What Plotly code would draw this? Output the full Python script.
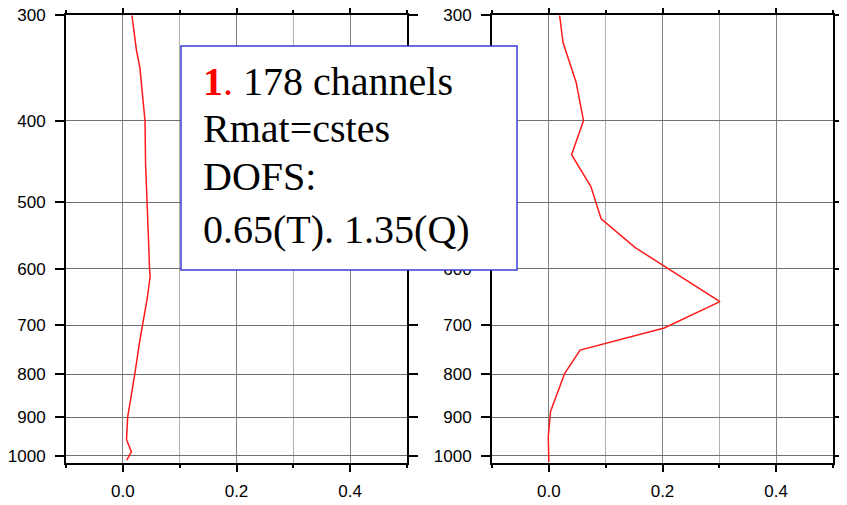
import math
import plotly.graph_objects as go

# ---- data ----
p_left = [300, 330, 346, 378, 400, 450, 500, 550, 600, 613, 650, 677, 700, 729, 800, 850, 900, 957, 989, 1012]
t_left = [0.016, 0.024, 0.030, 0.036, 0.039, 0.040, 0.042, 0.045, 0.047, 0.048, 0.043, 0.038, 0.035, 0.030, 0.021, 0.015, 0.0085, 0.0065, 0.015, 0.007]

p_right = [300, 323, 360, 400, 439, 479, 523, 566, 656, 705, 749, 798, 886, 949, 1016]
q_right = [0.019, 0.025, 0.048, 0.061, 0.040, 0.074, 0.092, 0.152, 0.301, 0.203, 0.055, 0.028, 0.003, -0.001, 0.0]

y_ticks = [300, 400, 500, 600, 700, 800, 900, 1000]
x_range = [-0.1, 0.5]
p_range = [1020, 299.6]

box_lines = ["<span style='color:red'><b>1</b>.</span> 178 channels",
             "Rmat=cstes",
             "DOFS:",
             "0.65(T). 1.35(Q)"]
box_line_tops = [57, 104, 152, 205]

# ---- layout geometry (page body has an 8px margin) ----
OFF = 8
W, H = 847 - OFF, 505 - OFF
ML, MT = 66 - OFF, 15 - OFF
MR, MB = 14, 42
PW, PH = W - ML - MR, H - MT - MB


def px2x(px):
    return (px - OFF - ML) / PW


def px2y(py):
    return (H - MB - (py - OFF)) / PH


fig = go.Figure()
fig.add_trace(go.Scatter(x=t_left, y=p_left, mode="lines",
                         line=dict(color="#ff1a1a", width=1.5),
                         xaxis="x", yaxis="y", showlegend=False))
fig.add_trace(go.Scatter(x=q_right, y=p_right, mode="lines",
                         line=dict(color="#ff1a1a", width=1.5),
                         xaxis="x2", yaxis="y2", showlegend=False))

tickfont = dict(family="Liberation Sans, Arial, sans-serif", size=17, color="black")

xax = dict(range=x_range, tick0=0, dtick=0.2, tickformat=".1f",
           showline=True, linewidth=2, linecolor="black", mirror="ticks",
           ticks="outside", ticklen=7, tickwidth=1.5, tickcolor="black",
           showgrid=True, gridcolor="#808080", gridwidth=1,
           zeroline=False, tickfont=tickfont, ticklabelstandoff=5,
           automargin=False, ticklabeloverflow="allow",
           minor=dict(tick0=-0.1, dtick=0.1, ticks="outside", ticklen=3,
                      tickwidth=1.5, tickcolor="black",
                      showgrid=True, gridcolor="#b0b0b0", gridwidth=1),
           fixedrange=True)
yax = dict(type="log", range=[math.log10(p_range[0]), math.log10(p_range[1])],
           tickmode="array", tickvals=y_ticks, ticktext=[str(v) for v in y_ticks],
           showline=True, linewidth=2, linecolor="black", mirror="ticks",
           ticks="outside", ticklen=9, tickwidth=1.5, tickcolor="black",
           showgrid=True, gridcolor="#707070", gridwidth=1,
           zeroline=False, tickfont=tickfont, ticklabelstandoff=6,
           automargin=False, ticklabeloverflow="allow",
           fixedrange=True)

fig.update_layout(
    width=W, height=H,
    margin=dict(l=ML, r=MR, t=MT, b=MB, pad=0, autoexpand=False),
    paper_bgcolor="white", plot_bgcolor="white",
    xaxis=dict(domain=[0, px2x(407)], anchor="y", **xax),
    yaxis=dict(domain=[0, 1], anchor="x", **yax),
    xaxis2=dict(domain=[px2x(492), 1], anchor="y2", **xax),
    yaxis2=dict(domain=[0, 1], anchor="x2", **yax),
)

fig.add_shape(type="rect", xref="paper", yref="paper",
              x0=px2x(181), x1=px2x(517), y0=px2y(270), y1=px2y(46),
              fillcolor="white", line=dict(color="#3c3cd8", width=1.5),
              layer="above")

for line, top in zip(box_lines, box_line_tops):
    fig.add_annotation(xref="paper", yref="paper", x=px2x(201), y=px2y(top),
                       xanchor="left", yanchor="top", align="left",
                       showarrow=False, text=line,
                       font=dict(family="Liberation Serif, Times New Roman, serif",
                                 size=40, color="black"))

fig.write_html("out.html")
